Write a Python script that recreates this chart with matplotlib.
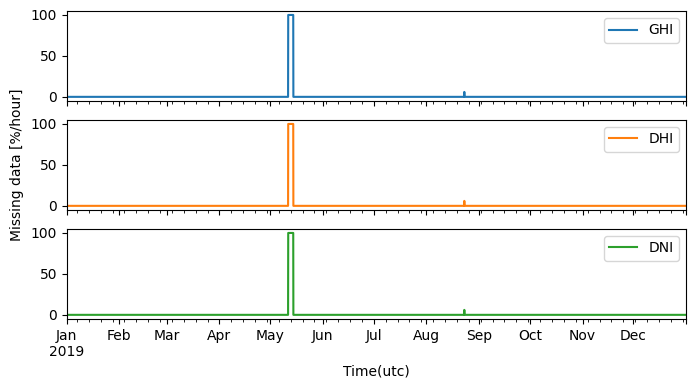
import pandas as pd
import matplotlib
matplotlib.use('Agg')
import matplotlib.pyplot as plt

# '#' Series names and the gaps found in the hourly record (start, end, percent missing)
series_names = ['GHI', 'DHI', 'DNI']
gap_starts = ['2019-05-11 12:00', '2019-08-23 06:00']
gap_ends = ['2019-05-14 12:00', '2019-08-23 09:00']
gap_values = [100, 6]

# '#' Builds the hourly missing-data table
index = pd.date_range('2019-01-01 00:00', '2019-12-31 23:00', freq='h')
missing = pd.DataFrame(0.0, index=index, columns=series_names)
for start, end, val in zip(gap_starts, gap_ends, gap_values):
    missing.loc[start:end, :] = val

fig, axes = plt.subplots(3, 1, sharex=True, figsize=(6.95, 3.88), dpi=100)
missing.plot(subplots=True, ax=axes, legend=False)
for ax in axes:
    ax.legend(loc='upper right')
    ax.set_ylim(-5, 105)
    ax.set_xlabel('')
axes[-1].set_xlabel('Time(utc)')
fig.text(0.024, 0.575, 'Missing data [%/hour]', rotation=90, va='center', ha='center', fontsize=10)

plt.subplots_adjust(left=0.096, right=0.987, top=0.972, bottom=0.178, hspace=0.21)
plt.savefig('out.png')
